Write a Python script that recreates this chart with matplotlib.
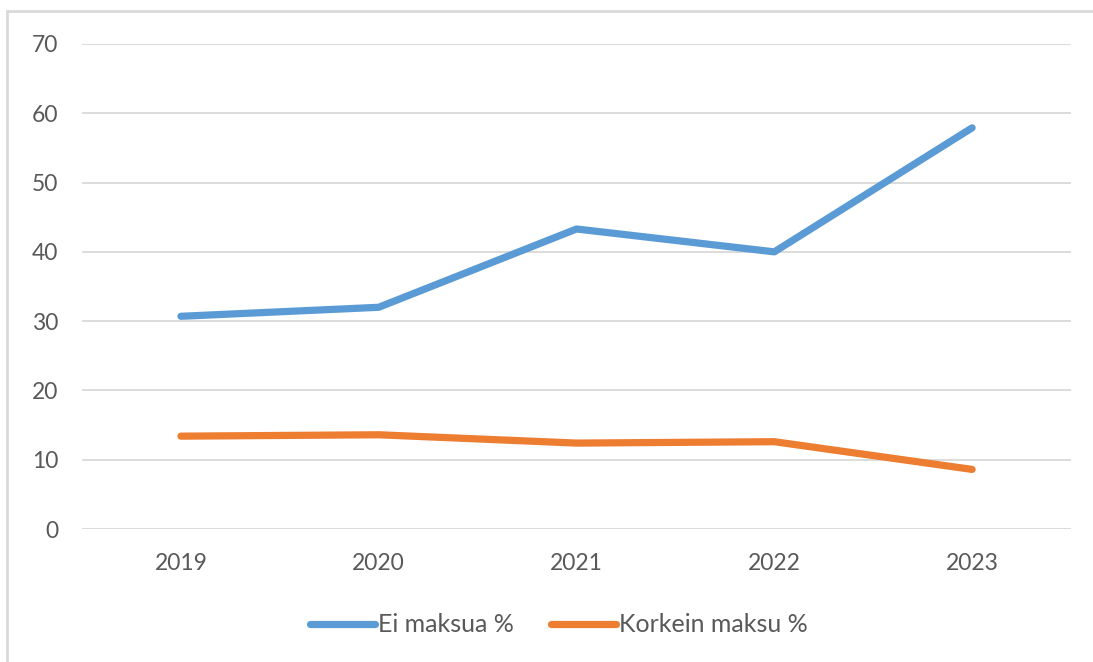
import matplotlib.pyplot as plt
from matplotlib.patches import Rectangle

years = ["2019", "2020", "2021", "2022", "2023"]
ei_maksua = [30.7, 32.0, 43.3, 40.0, 57.9]
korkein_maksu = [13.4, 13.6, 12.4, 12.6, 8.6]

plt.rcParams['font.family'] = ['Lato', 'DejaVu Sans']

fig = plt.figure(figsize=(10.93, 6.62), dpi=100)
ax = fig.add_axes([82 / 1093, 1 - 529 / 662, (1071 - 82) / 1093, (529 - 44) / 662])

x = range(len(years))
ax.plot(x, ei_maksua, color="#5b9bd5", lw=5.2, solid_capstyle="round",
        solid_joinstyle="round", label="Ei maksua %")
ax.plot(x, korkein_maksu, color="#ed7d31", lw=5.2, solid_capstyle="round",
        solid_joinstyle="round", label="Korkein maksu %")

ax.set_xlim(-0.5, len(years) - 0.5)
ax.set_ylim(0, 70)
ax.set_yticks(range(0, 71, 10))
ax.set_xticks(list(x))
ax.set_xticklabels(years)
ax.grid(axis="y", color="#d9d9d9", lw=1.3)
ax.set_axisbelow(True)
for s in ax.spines.values():
    s.set_visible(False)
ax.tick_params(length=0, labelsize=16.5, labelcolor="#595959")
ax.tick_params(axis="y", pad=17)
ax.tick_params(axis="x", pad=17)

# chart frame (cropped at right and bottom)
fig.patches.append(Rectangle((7 / 1093, -0.1), 1.2, 1.1 - 11 / 662,
                             transform=fig.transFigure, fill=False,
                             edgecolor="#d9d9d9", lw=2))

fig.legend(loc="center", bbox_to_anchor=(559 / 1093, 1 - 625 / 662), ncol=2,
           frameon=False, fontsize=18, handlelength=2.6, handletextpad=0.12,
           columnspacing=1.5, labelcolor="#595959")

fig.savefig("out.png", dpi=100)
